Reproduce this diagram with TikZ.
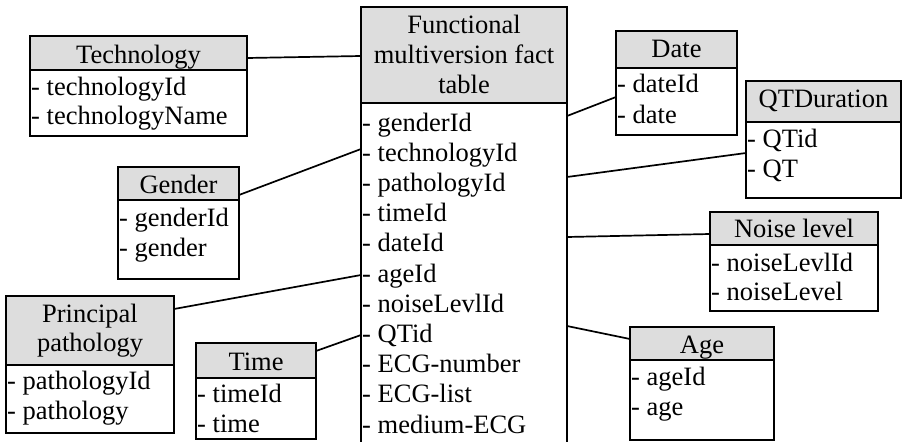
\documentclass[tikz,border=0pt]{standalone}
\usepackage{fontspec}
\setmainfont{Liberation Serif}
\definecolor{hdrgray}{RGB}{221,221,221}
\tikzset{
  boxline/.style={line width=1.7pt, draw=black},
  hdr/.style={boxline, fill=hdrgray, anchor=north west, inner sep=0pt, outer sep=0pt},
  bdy/.style={boxline, fill=white, anchor=north west, inner sep=0pt, outer sep=0pt},
  ttl/.style={anchor=base, inner sep=0pt, font=\fontsize{26.5}{30}\selectfont},
  attr/.style={anchor=base west, inner sep=0pt, font=\fontsize{26.5}{30}\selectfont},
  link/.style={line width=1.7pt, draw=black}
}
% one entity box: name, x1, y1, y of header bottom, x2, y2
\newcommand\entitybox[6]{%
  \node[hdr, minimum width={(#5-#2)*1pt}, minimum height={(#4-#3)*1pt}] (#1H) at (#2,#3) {};
  \node[bdy, minimum width={(#5-#2)*1pt}, minimum height={(#6-#4)*1pt}] (#1B) at (#2,#4) {};
}
\begin{document}
\begin{tikzpicture}[x=1pt,y=-1pt]
\clip (0,0) rectangle (903,442);
\fill[white] (0,0) rectangle (903,442);

% boxes
\entitybox{tech}{30}{36}{70}{247}{136}
\entitybox{fact}{361}{7}{103}{567}{452}
\entitybox{date}{616}{31}{68}{737}{135}
\entitybox{qt}{746}{81}{122}{901}{198}
\entitybox{gender}{118}{167}{200}{239}{279}
\entitybox{pp}{6}{296}{365}{174}{433}
\entitybox{time}{196}{343}{378}{316}{439}
\entitybox{noise}{710}{212}{245}{878}{311}
\entitybox{age}{630}{327}{360}{774}{440}

% relations between the fact table and its dimensions
\draw[link] (techH.east |- 0,58) -- (factH.west |- 0,56);
\draw[link] (factB.east |- 0,116) -- (dateB.west |- 0,97);
\draw[link] (factB.east |- 0,177) -- (qtB.west |- 0,153);
\draw[link] (genderH.east |- 0,195) -- (factB.west |- 0,149);
\draw[link] (ppH.east |- 0,309) -- (factB.west |- 0,275);
\draw[link] (timeH.east |- 0,351) -- (factB.west |- 0,335);
\draw[link] (factB.east |- 0,237) -- (noiseH.west |- 0,234);
\draw[link] (factB.east |- 0,326) -- (ageH.west |- 0,339);

% Technology
\node[ttl] (techT) at (138.5,63) {Technology};
\node[attr] (techA1) at (31,95) {- technologyId};
\node[attr] (techA2) at (31,124) {- technologyName};

% fact table
\node[ttl] (factT1) at (464,33) {Functional};
\node[ttl] (factT2) at (464,63) {multiversion fact};
\node[ttl] (factT3) at (464,93) {table};
\foreach \t [count=\i from 0] in {genderId,technologyId,pathologyId,timeId,dateId,ageId,noiseLevlId,QTid,ECG-number,ECG-list,medium-ECG}
  \node[attr] (factA\i) at (362,131+30.2*\i) {- \t};

% Date
\node[ttl] (dateT) at (676.5,57) {Date};
\node[attr] (dateA1) at (617,92.5) {- dateId};
\node[attr] (dateA2) at (617,123) {- date};

% QTDuration
\node[ttl] (qtT) at (823.5,107) {QTDuration};
\node[attr] (qtA1) at (747,147) {- QTid};
\node[attr] (qtA2) at (747,177) {- QT};

% Gender
\node[ttl] (genderT) at (178.5,193) {Gender};
\node[attr] (genderA1) at (119,226) {- genderId};
\node[attr] (genderA2) at (119,256) {- gender};

% Principal pathology
\node[ttl] (ppT1) at (90,322) {Principal};
\node[ttl] (ppT2) at (90,351) {pathology};
\node[attr] (ppA1) at (7,389) {- pathologyId};
\node[attr] (ppA2) at (7,419) {- pathology};

% Time
\node[ttl] (timeT) at (256,370) {Time};
\node[attr] (timeA1) at (197,402) {- timeId};
\node[attr] (timeA2) at (197,432) {- time};

% Noise level
\node[ttl] (noiseT) at (794,237) {Noise level};
\node[attr] (noiseA1) at (711,271) {- noiseLevlId};
\node[attr] (noiseA2) at (711,300) {- noiseLevel};

% Age
\node[ttl] (ageT) at (702,353) {Age};
\node[attr] (ageA1) at (631,385) {- ageId};
\node[attr] (ageA2) at (631,415) {- age};
\end{tikzpicture}
\end{document}
